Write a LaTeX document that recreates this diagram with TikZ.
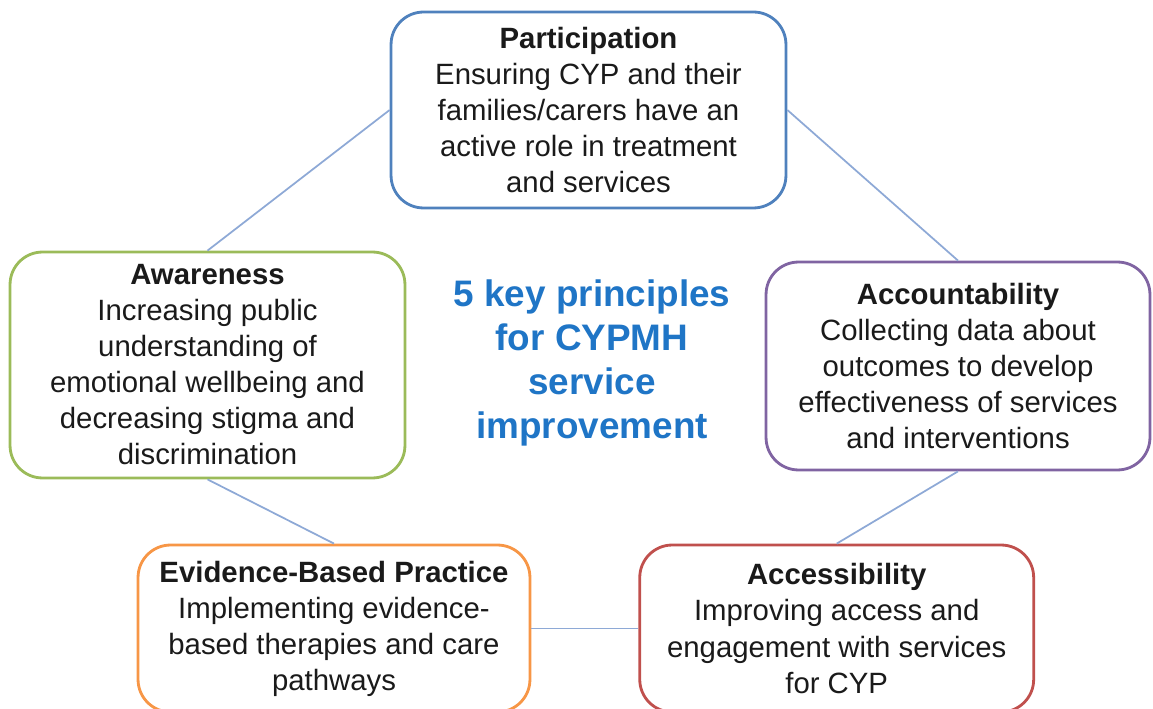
\documentclass[tikz,border=0pt]{standalone}
\usepackage{fontspec}
\setmainfont{Liberation Sans}
\usetikzlibrary{positioning}

\definecolor{partblue}{HTML}{4F81BD}
\definecolor{awaregreen}{HTML}{9BBB59}
\definecolor{accpurple}{HTML}{8064A2}
\definecolor{evorange}{HTML}{F79646}
\definecolor{accred}{HTML}{C0504D}
\definecolor{linkblue}{HTML}{8EA9D6}
\definecolor{keyblue}{HTML}{1F75C6}
\definecolor{bodytext}{HTML}{1A1A1A}

\begin{document}
\begin{tikzpicture}[
    x=0.02cm, y=-0.02cm,
    node distance=2.14cm,
    box/.style={rectangle, rounded corners=0.65cm, line width=1.6pt, fill=white, align=center,
        text=bodytext, font=\fontsize{16.7}{20.5}\selectfont, inner sep=0pt},
    link/.style={draw=linkblue, line width=1pt}
]
\useasboundingbox (0,0) rectangle (1153,709);

\node[box, draw=partblue, minimum width=7.9cm, minimum height=3.92cm] (part) at (588.5,110)
    {\textbf{Participation}\\Ensuring CYP and their\\families/carers have an\\active role in treatment\\and services};
\node[box, draw=awaregreen, minimum width=7.9cm, minimum height=4.52cm] (aware) at (207.5,365)
    {\textbf{Awareness}\\Increasing public\\understanding of\\emotional wellbeing and\\decreasing stigma and\\discrimination};
\node[box, draw=accpurple, minimum width=7.68cm, minimum height=4.16cm] (acc) at (958,366)
    {\textbf{Accountability}\\Collecting data about\\outcomes to develop\\effectiveness of services\\and interventions};
\node[box, draw=evorange, minimum width=7.84cm, minimum height=3.34cm] (ev) at (334,628.5)
    {\textbf{Evidence-Based Practice}\\Implementing evidence-\\based therapies and care\\pathways};
\node[box, draw=accred, minimum width=7.88cm, minimum height=3.34cm, right=of ev] (access)
    {\textbf{Accessibility}\\Improving access and\\engagement with services\\for CYP};

% centre title
\node[align=center, text=keyblue, font=\fontsize{21}{25}\selectfont\bfseries] (key) at (592,363)
    {5 key principles\\for CYPMH\\service\\improvement};

% links round the ring
\draw[link] (part.west) -- (aware.north);
\draw[link] (part.east) -- (acc.north);
\draw[link] (aware.south) -- (ev.north);
\draw[link] (acc.south) -- (access.north);
\draw[link] (ev.east) -- (access.west);
\end{tikzpicture}
\end{document}
